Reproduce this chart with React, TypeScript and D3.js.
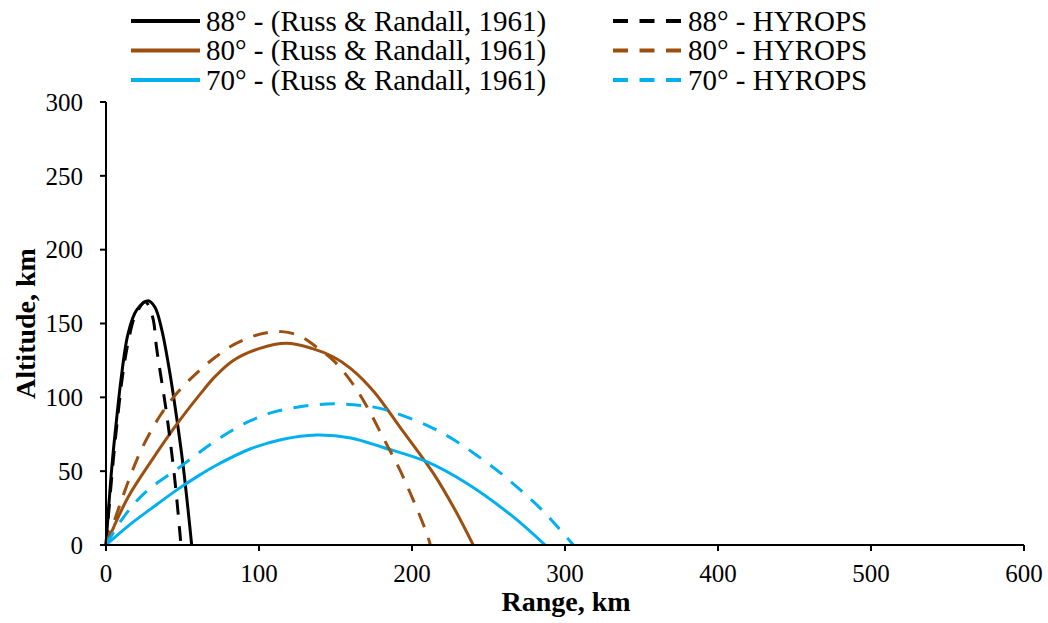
import * as d3 from "d3";

const WIDTH = 1048;
const HEIGHT = 623;
const MARGIN = { top: 102, right: 24, bottom: 78, left: 106 };

const X_TICKS = [0, 100, 200, 300, 400, 500, 600];
const Y_TICKS = [0, 50, 100, 150, 200, 250, 300];

const BLACK = "#000000";
const BROWN = "#9c4f0e";
const BLUE = "#00b0f0";

// [range km, altitude km]
const russ88: [number, number][] = [
  [0, 0], [1.5, 22], [4, 55], [7, 86], [9.8, 112], [14.4, 143], [20, 159],
  [27.6, 165.4], [32, 161], [36.4, 146], [41, 121], [45.1, 94], [50.5, 53], [56, 0],
];
const hyrops88: [number, number][] = [
  [0, 0], [2, 25], [5, 60], [8, 90], [11, 116], [15, 140], [19, 155],
  [25.5, 164.7], [28, 162], [31, 152], [33, 134], [39.6, 89], [45, 44], [49, 0],
];
const russ80: [number, number][] = [
  [0, 0], [5, 12], [14.6, 32.7], [30, 57.5], [45, 80], [61.4, 102], [71.2, 114],
  [83.2, 125], [100, 133], [118, 136.6], [135, 133], [148.4, 127.5], [160, 119.5],
  [175, 104], [192, 80], [214, 48.5], [228, 24], [240, 0],
];
const hyrops80: [number, number][] = [
  [0, 0], [5, 15], [10.2, 30.5], [16, 47], [23.3, 65], [35, 87], [47.3, 104],
  [61.4, 118.5], [71.2, 127], [83.2, 135.5], [95, 141], [105, 143.8], [115, 144.5],
  [126.8, 141.5], [137, 134.5], [148.6, 125], [160, 111], [170.4, 94], [181, 73],
  [192, 51], [201, 30], [209.6, 8], [212, 0],
];
const russ70: [number, number][] = [
  [0, 0], [14.6, 13], [30, 25], [47.3, 38], [61.4, 47.5], [71.2, 53.5], [94.1, 65],
  [115, 71.5], [137.7, 74.5], [160, 72.5], [181.2, 66], [209.6, 56.4], [235.7, 41.8],
  [266, 19.2], [287, 0],
];
const hyrops70: [number, number][] = [
  [0, 0], [10.2, 17], [25, 35], [47.3, 52], [61.4, 63], [76.7, 74], [94.1, 84],
  [109.4, 90], [126.8, 93.6], [144.2, 95.5], [161.6, 95], [181.2, 92], [211.8, 80],
  [227, 71.5], [242, 61], [257.5, 49], [270.6, 37.5], [283.7, 25], [294.5, 13], [305.5, 0],
];

const SERIES = [
  { name: "88° - (Russ & Randall, 1961)", data: russ88, color: BLACK, dashed: false },
  { name: "80° - (Russ & Randall, 1961)", data: russ80, color: BROWN, dashed: false },
  { name: "70° - (Russ & Randall, 1961)", data: russ70, color: BLUE, dashed: false },
  { name: "88° - HYROPS", data: hyrops88, color: BLACK, dashed: true },
  { name: "80° - HYROPS", data: hyrops80, color: BROWN, dashed: true },
  { name: "70° - HYROPS", data: hyrops70, color: BLUE, dashed: true },
];

const DASH = "15,11.5";
const FONT = '"Liberation Serif", "Times New Roman", Times, serif';

export default function App() {
  const x = d3.scaleLinear().domain([0, 600]).range([MARGIN.left, WIDTH - MARGIN.right]);
  const y = d3.scaleLinear().domain([0, 300]).range([HEIGHT - MARGIN.bottom, MARGIN.top]);

  const line = d3
    .line<[number, number]>()
    .x((d) => x(d[0]))
    .y((d) => y(d[1]))
    .curve(d3.curveCatmullRom.alpha(0.5));

  const y0 = y(0);
  const x0 = x(0);
  const txt = { fontFamily: FONT };

  return (
    <svg
      width={WIDTH}
      height={HEIGHT}
      style={{ position: "absolute", left: 0, top: 0, background: "#fff" }}
    >
      {/* curves */}
      <g fill="none" strokeWidth={3}>
        {SERIES.map((s) => (
          <path
            key={s.name}
            d={line(s.data) || ""}
            stroke={s.color}
            strokeDasharray={s.dashed ? DASH : undefined}
          />
        ))}
      </g>

      {/* y axis */}
      <g>
        <line x1={x0} x2={x0} y1={y(300)} y2={y0} stroke="#000" strokeWidth={2} />
        {Y_TICKS.map((t) => (
          <g key={t}>
            <line x1={x0 - 6} x2={x0} y1={y(t)} y2={y(t)} stroke="#000" strokeWidth={2} />
            <text x={x0 - 23} y={y(t)} dy="0.35em" textAnchor="end" fontSize={25} style={txt}>
              {t}
            </text>
          </g>
        ))}
      </g>

      {/* x axis */}
      <g>
        <line x1={x0} x2={x(600)} y1={y0} y2={y0} stroke="#000" strokeWidth={2} />
        {X_TICKS.map((t) => (
          <g key={t}>
            <line x1={x(t)} x2={x(t)} y1={y0} y2={y0 + 6} stroke="#000" strokeWidth={2} />
            <text x={x(t)} y={582} textAnchor="middle" fontSize={25} style={txt}>
              {t}
            </text>
          </g>
        ))}
      </g>

      {/* axis titles */}
      <text x={566} y={611} textAnchor="middle" fontSize={28} fontWeight="bold" style={txt}>
        Range, km
      </text>
      <text
        transform={`translate(35,${(y(300) + y0) / 2}) rotate(-90)`}
        textAnchor="middle"
        fontSize={28}
        fontWeight="bold"
        style={txt}
      >
        Altitude, km
      </text>

      {/* legend */}
      <g>
        {SERIES.map((s, i) => {
          const col = i < 3 ? 0 : 1;
          const row = i % 3;
          const lx = col === 0 ? 131 : 613;
          const ly = 21 + row * 29.5;
          return (
            <g key={s.name}>
              <line
                x1={lx}
                x2={lx + 69}
                y1={ly}
                y2={ly}
                stroke={s.color}
                strokeWidth={4}
                strokeDasharray={s.dashed ? DASH : undefined}
              />
              <text x={lx + 75} y={ly} dy="0.33em" fontSize={29} style={txt}>
                {s.name}
              </text>
            </g>
          );
        })}
      </g>
    </svg>
  );
}
